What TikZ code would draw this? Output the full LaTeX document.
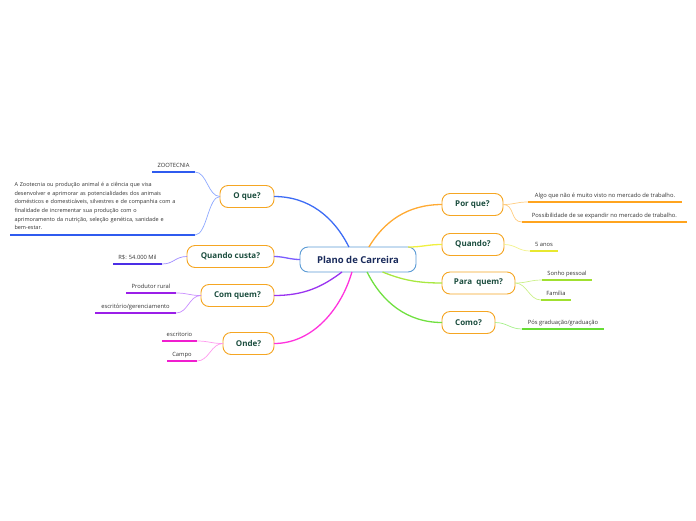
\documentclass[tikz,border=0pt]{standalone}
\usepackage{fontspec}
\setmainfont{Open Sans}
\usepackage{xcolor}
\usepackage{tikz}
\usetikzlibrary{positioning, calc}

\definecolor{rootblue}{HTML}{5B9BD5}
\definecolor{rootnavy}{HTML}{1A2B5C}
\definecolor{topicorange}{HTML}{F5A623}
\definecolor{topicgreen}{HTML}{1B4D3E}
\definecolor{leafgray}{HTML}{333333}
% branch colours: line from root, twig to leaf, underline
\definecolor{oqueB}{HTML}{3D6CF5}\definecolor{oqueT}{HTML}{8FA9FF}\definecolor{oqueU}{HTML}{2F5BEF}
\definecolor{custaB}{HTML}{7A5CFF}\definecolor{custaT}{HTML}{A08CFF}\definecolor{custaU}{HTML}{4B2EE6}
\definecolor{quemB}{HTML}{9A33F0}\definecolor{quemT}{HTML}{C88CFF}\definecolor{quemU}{HTML}{9B1FE8}
\definecolor{ondeB}{HTML}{FF33DD}\definecolor{ondeT}{HTML}{FF99EE}\definecolor{ondeU}{HTML}{F01ECF}
\definecolor{porqueB}{HTML}{FFAA33}\definecolor{porqueT}{HTML}{FFCC80}\definecolor{porqueU}{HTML}{FFA41F}
\definecolor{quandoB}{HTML}{F0F040}\definecolor{quandoT}{HTML}{F2F28A}\definecolor{quandoU}{HTML}{E8E830}
\definecolor{paraB}{HTML}{A8E840}\definecolor{paraT}{HTML}{CCF08A}\definecolor{paraU}{HTML}{A0E030}
\definecolor{comoB}{HTML}{70E040}\definecolor{comoT}{HTML}{A6F08A}\definecolor{comoU}{HTML}{66DD33}

\begin{document}
\begin{tikzpicture}[x=1pt, y=-1pt,
  root/.style={draw=rootblue, line width=0.9pt, rounded corners=8pt, fill=white,
    text=rootnavy, font=\fontsize{9.5}{10}\selectfont\bfseries,
    minimum width=116pt, minimum height=25pt, inner sep=0pt, outer sep=0pt},
  topic/.style={draw=topicorange, line width=0.9pt, rounded corners=8pt, fill=white,
    text=topicgreen, font=\fontsize{8}{9}\selectfont\bfseries,
    minimum height=22pt, inner sep=0pt, outer sep=0pt},
  leaf/.style={font=\fontsize{5.8}{8.7}\selectfont, text=leafgray, anchor=south,
    inner xsep=0pt, inner ysep=5pt, text depth=0pt, outer sep=0pt},
  branch/.style={line width=1.3pt},
  twig/.style={line width=0.7pt},
  uline/.style={line width=1.5pt}]
  \useasboundingbox (0,0) rectangle (696,520);

  % root
  \node[root] (plan) at (358,259.5) {Plano de Carreira};

  % topics, left
  \node[topic, minimum width=54pt] (oque) at (247,196.5) {O que?};
  \node[topic, minimum width=87pt] (custa) at (230.5,256.5) {Quando custa?};
  \node[topic, minimum width=73pt] (comquem) at (237.5,295.5) {Com quem?};
  \node[topic, minimum width=51pt] (onde) at (248.5,343.5) {Onde?};
  % topics, right
  \node[topic, minimum width=61pt] (porque) at (472.5,204.5) {Por que?};
  \node[topic, minimum width=62pt] (quando) at (473,244.5) {Quando?};
  \node[topic, minimum width=73pt] (paraquem) at (478.5,283) {Para\ \ quem?};
  \node[topic, minimum width=53pt] (como) at (468.5,322.5) {Como?};

  % root to topics
  \draw[branch, oqueB] (plan.126) .. controls +(-15,-30) and +(35,0) .. (oque.east);
  \draw[branch, custaB] (plan.west) .. controls +(-10,0) and +(10,0) .. (custa.east);
  \draw[branch, quemB] (plan.218) .. controls +(-20,15) and +(30,0) .. (comquem.east);
  \draw[branch, ondeB] (plan.244) .. controls +(-10,35) and +(40,0) .. (onde.east);
  \draw[branch, porqueB] (plan.49) .. controls +(15,-25) and +(-35,0) .. (porque.west);
  \draw[branch, quandoB] (plan.14) .. controls +(15,0) and +(-15,0) .. (quando.west);
  \draw[branch, paraB] (plan.-27) .. controls +(20,8) and +(-25,0) .. (paraquem.west);
  \draw[branch, comoB] (plan.-54) .. controls +(15,30) and +(-35,0) .. (como.west);

  % leaves, left
  \node[leaf, minimum width=43pt] (zoo) at (173.5,172) {ZOOTECNIA};
  \node[leaf, minimum width=185pt, text width=176pt, align=left, text depth=,
    font=\fontsize{5.5}{8.7}\selectfont] (zoodef) at (102.5,235)
    {A Zootecnia ou produção animal é a ciência que visa\\
     desenvolver e aprimorar as potencialidades dos animais\\
     domésticos e domesticáveis, silvestres e de companhia com a\\
     finalidade de incrementar sua produção com o\\
     aprimoramento da nutrição, seleção genética, sanidade e\\
     bem-estar.};
  \node[leaf, minimum width=49pt] (valor) at (137.5,264) {R\$: 54.000 Mil};
  \node[leaf, minimum width=50pt] (produtor) at (151,293) {Produtor rural};
  \node[leaf, minimum width=81pt] (gerencia) at (135.5,313) {escritório/gerenciamento};
  \node[leaf, minimum width=35pt] (escritorio) at (179.5,341) {escritorio};
  \node[leaf, minimum width=30pt] (campo) at (182,361) {Campo};
  % leaves, right
  \node[leaf, minimum width=154pt] (algo) at (605,202) {Algo que não é muito visto no mercado de trabalho.};
  \node[leaf, minimum width=165pt] (expandir) at (604.5,222) {Possibilidade de se expandir no mercado de trabalho.};
  \node[leaf, minimum width=28pt] (anos) at (544,251) {5 anos};
  \node[leaf, minimum width=50pt] (sonho) at (567,280) {Sonho pessoal};
  \node[leaf, minimum width=30pt] (familia) at (556,300) {Família};
  \node[leaf, minimum width=82pt] (pos) at (563,329) {Pós graduação/graduação};

  % underlines
  \foreach \n/\c in {zoo/oqueU, zoodef/oqueU, valor/custaU, produtor/quemU, gerencia/quemU,
      escritorio/ondeU, campo/ondeU, algo/porqueU, expandir/porqueU, anos/quandoU,
      sonho/paraU, familia/paraU, pos/comoU}
    \draw[uline, \c] (\n.south west) -- (\n.south east);

  % topics to leaves
  \foreach \t/\n/\c in {oque/zoo/oqueT, oque/zoodef/oqueT, custa/valor/custaT,
      comquem/produtor/quemT, comquem/gerencia/quemT, onde/escritorio/ondeT, onde/campo/ondeT}
    \draw[twig, \c] (\t.west) .. controls +(-12,0) and +(12,0) .. (\n.south east);
  \foreach \t/\n/\c in {porque/algo/porqueT, porque/expandir/porqueT, quando/anos/quandoT,
      paraquem/sonho/paraT, paraquem/familia/paraT, como/pos/comoT}
    \draw[twig, \c] (\t.east) .. controls +(12,0) and +(-12,0) .. (\n.south west);
\end{tikzpicture}
\end{document}
